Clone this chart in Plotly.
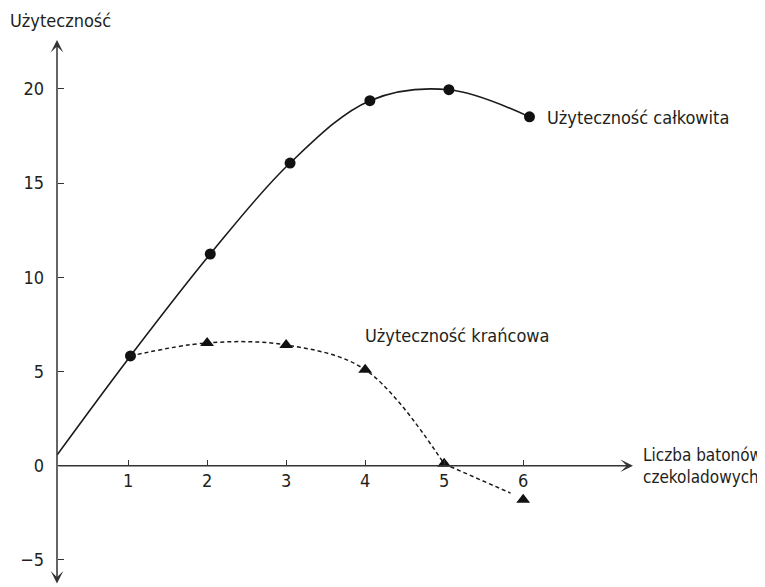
import plotly.graph_objects as go

# ---- data ----
units_total = [1.03, 2.04, 3.05, 4.06, 5.06, 6.08]
total_utility = [5.83, 11.24, 16.07, 19.38, 19.96, 18.52]
total_curve_start_x = [0.1]
total_curve_start_y = [0.57]

units_marginal = [2, 3, 4, 5, 6]
marginal_utility = [6.52, 6.41, 5.10, 0.10, -1.81]
marginal_curve_x = [1.03, 2.0, 3.0, 4.0, 5.0]
marginal_curve_y = [5.83, 6.52, 6.41, 5.10, 0.10]
marginal_tail_x = [5.0, 5.84]
marginal_tail_y = [0.10, -1.45]

x_ticks = [1, 2, 3, 4, 5, 6]
x_tick_labels = ["1", "2", "3", "4", "5", "6"]
y_ticks = [-5, 0, 5, 10, 15, 20]
y_tick_labels = ["\u22125", "0", "5", "10", "15", "20"]

x_range = [0.1, 7.39]
y_range = [-6.33, 22.6]

y_title = "Użyteczność"
x_title = "Liczba batonów<br>czekoladowych"
total_label = "Użyteczność całkowita"
marginal_label = "Użyteczność krańcowa"

FONT = "'DejaVu Sans Condensed', 'Liberation Sans Narrow', sans-serif"
FS = 18
TXT = "#231f20"
LINE = "#1a1a1a"
AX = "#333333"

# the page body adds an 8px offset; margins are expressed in figure pixels
OFF = 8
W, H = 765, 587
AXIS_X = 57 - OFF          # figure x of the vertical axis
LABEL_GAP = 13             # gap between y tick labels and the axis
EXTRA = 20                 # room left of the axis inside the plot area
ML = AXIS_X - EXTRA
MT = 40 - OFF
MR = W - (633 - OFF)
MB = H - (585 - OFF)
PW, PH = W - ML - MR, H - MT - MB
DOM0 = EXTRA / PW


def page_to_paper(px, py):
    fx, fy = px - OFF, py - OFF
    return (fx - ML) / PW, (H - MB - fy) / PH


fig = go.Figure()

# total utility curve
fig.add_trace(go.Scatter(
    x=total_curve_start_x + units_total,
    y=total_curve_start_y + total_utility,
    mode="lines", line=dict(color=LINE, width=1.6, shape="spline", smoothing=1.0),
    hoverinfo="skip"))
fig.add_trace(go.Scatter(
    x=units_total, y=total_utility, mode="markers",
    marker=dict(symbol="circle", size=11, color="#111111")))

# marginal utility curve
fig.add_trace(go.Scatter(
    x=marginal_curve_x, y=marginal_curve_y, mode="lines",
    line=dict(color=LINE, width=1.5, dash="4px,3px", shape="spline", smoothing=1.0),
    hoverinfo="skip"))
fig.add_trace(go.Scatter(
    x=marginal_tail_x, y=marginal_tail_y, mode="lines",
    line=dict(color=LINE, width=1.5, dash="4px,3px"), hoverinfo="skip"))
fig.add_trace(go.Scatter(
    x=units_marginal, y=marginal_utility, mode="markers",
    marker=dict(symbol="triangle-up", size=12, color="#111111")))

# empty trace so the label axes are drawn
fig.add_trace(go.Scatter(x=[], y=[], xaxis="x2", yaxis="y2", hoverinfo="skip"))

y0_frac = (0 - y_range[0]) / (y_range[1] - y_range[0])

common = dict(showgrid=False, zeroline=False, showline=False, automargin=False)

fig.update_layout(
    width=W, height=H,
    margin=dict(l=ML, r=MR, t=MT, b=MB, pad=0, autoexpand=False),
    paper_bgcolor="white", plot_bgcolor="white",
    showlegend=False,
    font=dict(family=FONT, size=FS, color=TXT),
    # tick marks
    xaxis=dict(range=x_range, domain=[DOM0, 1], tickvals=x_ticks, showticklabels=False,
               ticks="inside", ticklen=6, tickwidth=1.3, tickcolor=AX,
               anchor="free", position=y0_frac, **common),
    yaxis=dict(range=y_range, tickvals=y_ticks, showticklabels=False,
               ticks="inside", ticklen=6, tickwidth=1.3, tickcolor=AX,
               anchor="free", position=DOM0, **common),
    # tick labels
    xaxis2=dict(range=x_range, domain=[DOM0, 1], overlaying="x",
                tickvals=x_ticks, ticktext=x_tick_labels,
                ticks="", anchor="free", position=y0_frac - 2 / PH, side="bottom",
                tickfont=dict(family=FONT, size=FS, color=TXT), **common),
    yaxis2=dict(range=y_range, overlaying="y", tickvals=y_ticks, ticktext=y_tick_labels,
                ticks="", anchor="free", position=(EXTRA - LABEL_GAP) / PW, side="left",
                tickfont=dict(family=FONT, size=FS, color=TXT), **common),
)

# axes with arrow heads
fig.add_annotation(x=x_range[1], y=0, ax=x_range[0], ay=0,
                   xref="x", yref="y", axref="x", ayref="y",
                   text="", showarrow=True, arrowhead=3, arrowsize=1.4,
                   arrowwidth=1.5, arrowcolor=AX, standoff=0)
fig.add_annotation(x=x_range[0], y=y_range[1], ax=x_range[0], ay=y_range[0],
                   xref="x", yref="y", axref="x", ayref="y",
                   text="", showarrow=True, arrowhead=3, startarrowhead=3,
                   arrowside="end+start", arrowsize=1.4, startarrowsize=1.4,
                   arrowwidth=1.5, arrowcolor=AX, standoff=0, startstandoff=0)

# texts
tx, ty = page_to_paper(8, 21)
fig.add_annotation(x=tx, y=ty, xref="paper", yref="paper", text=y_title,
                   showarrow=False, xanchor="left", yanchor="middle")
tx, ty = page_to_paper(641, 466)
fig.add_annotation(x=tx, y=ty, xref="paper", yref="paper", text=x_title,
                   showarrow=False, xanchor="left", yanchor="middle", align="left",
                   font=dict(family=FONT, size=17, color=TXT))
fig.add_annotation(x=6.28, y=18.5, xref="x", yref="y", text=total_label,
                   showarrow=False, xanchor="left", yanchor="middle")
fig.add_annotation(x=3.97, y=6.94, xref="x", yref="y", text=marginal_label,
                   showarrow=False, xanchor="left", yanchor="middle")

fig.write_html("out.html")
